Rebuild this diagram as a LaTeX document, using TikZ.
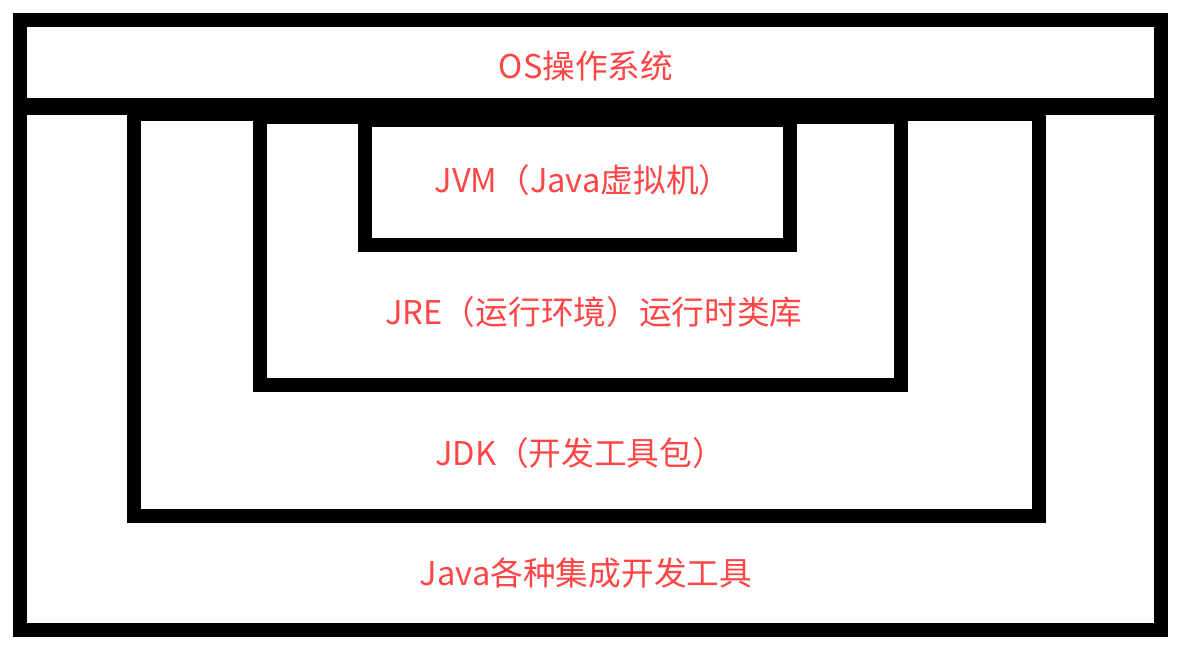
\documentclass[tikz,border=0pt]{standalone}
\usepackage{fontspec}
\setmainfont{Noto Sans CJK SC}
\usepackage{tikz}
\definecolor{labelred}{HTML}{FF4545}

\begin{document}
\begin{tikzpicture}[x=0.2mm, y=-0.2mm, box/.style={draw=black, line width=2.8mm}, txt/.style={text=labelred, font=\fontsize{18.6}{22}\selectfont, inner sep=0pt}]
    \useasboundingbox (0,0) rectangle (1200,647);
    \fill[white] (0,0) rectangle (1200,647);
    \draw[box] (20,20) rectangle (1161,105);
    \draw[box] (20,108) rectangle (1161,630);
    \draw[box] (134,114) rectangle (1039,516);
    \draw[box] (260,117) rectangle (901,384.5);
    \draw[box] (365,120) rectangle (790,245);
    \node[txt] (os) at (586,66) {OS操作系统};
    \node[txt] (jvm) at (583,180) {JVM（Java虚拟机）};
    \node[txt] (jre) at (594,312) {JRE（运行环境）运行时类库};
    \node[txt] (jdk) at (580,453) {JDK（开发工具包）};
    \node[txt] (ide) at (586,573) {Java各种集成开发工具};
\end{tikzpicture}
\end{document}
